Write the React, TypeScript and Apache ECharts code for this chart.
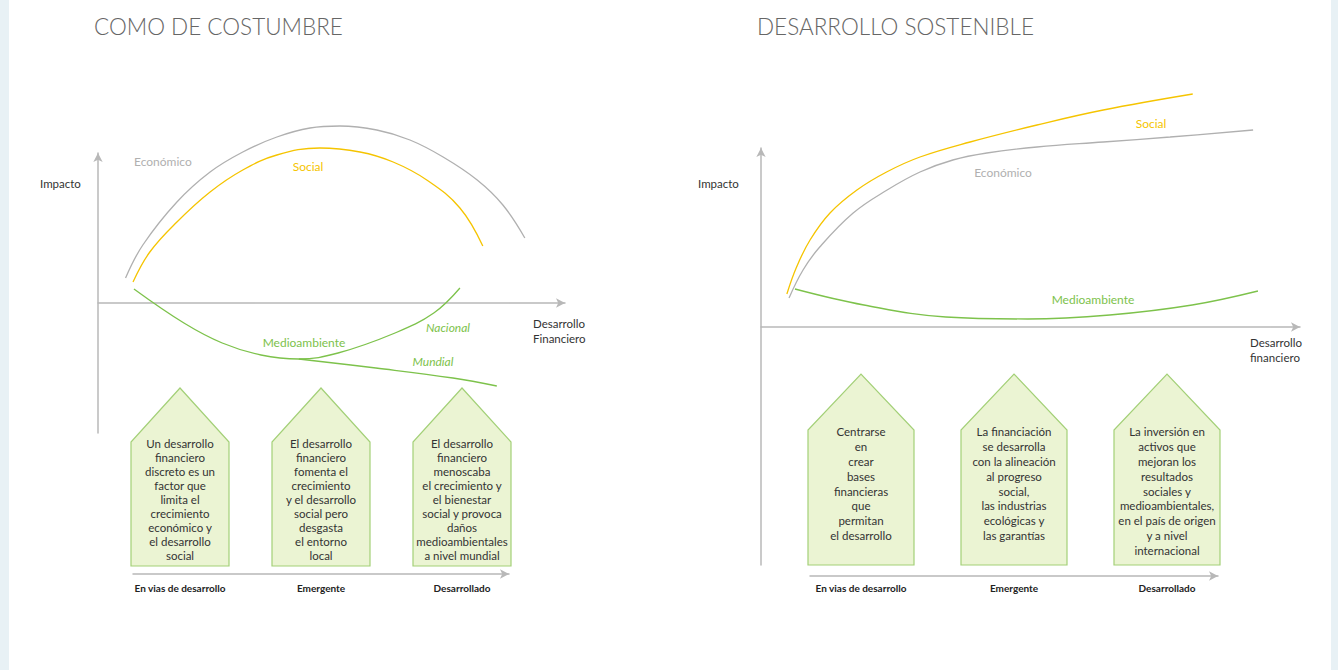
import React, { useEffect, useRef } from "react";
import * as echarts from "echarts";

// ---------- DATA ----------
// Left panel "COMO DE COSTUMBRE" (x: financial development 0-100, y: impact)
const leftEconomico = [[5.9, 25], [9.6, 58], [16.9, 101], [24.0, 131], [31.0, 151], [38.3, 166], [45.4, 175], [51.8, 177], [59.7, 173], [66.8, 163], [73.9, 146], [81.2, 123], [86.7, 98], [91.4, 65]];
const leftSocial = [[7.5, 21], [11.1, 51], [16.9, 81], [24.0, 111], [31.0, 133], [38.3, 148], [47.5, 155], [56.1, 151], [63.2, 141], [70.4, 123], [77.5, 95], [82.4, 57]];
const leftMedioNacional = [[7.7, 14], [18.4, -20], [26.6, -40], [34.9, -52], [43.0, -56], [51.4, -50], [63.6, -30], [71.9, -10], [77.5, 15]];
const leftMedioMundial = [[43.0, -56], [59.5, -65], [76.0, -75], [85.4, -83]];

// Right panel "DESARROLLO SOSTENIBLE"
const rightSocial = [[4.8, 33], [6.6, 60], [9.1, 87], [12.8, 114], [17.8, 137], [23.3, 155], [29.5, 170], [38.8, 185], [51.2, 202], [63.5, 217], [80.1, 233]];
const rightEconomico = [[5.2, 29], [7.8, 57], [10.9, 80], [17.1, 114], [23.4, 137], [29.5, 155], [35.6, 167], [41.9, 174], [51.2, 180], [63.5, 185], [75.9, 190], [91.3, 197]];
const rightMedio = [[6.3, 38], [19.1, 22], [34.3, 10], [49.5, 8], [64.7, 12], [80.0, 22], [92.2, 36]];

// Development stages (position along the stage axis 0-100)
const stagePositions = [12.5, 50, 87.5];
const stageLabels = ["En vias de desarrollo", "Emergente", "Desarrollado"];

const leftHouseTexts = [
  "Un desarrollo\nfinanciero\ndiscreto es un\nfactor que\nlimita el\ncrecimiento\neconómico y\nel desarrollo\nsocial",
  "El desarrollo\nfinanciero\nfomenta el\ncrecimiento\ny el desarrollo\nsocial pero\ndesgasta\nel entorno\nlocal",
  "El desarrollo\nfinanciero\nmenoscaba\nel crecimiento y\nel bienestar\nsocial y provoca\ndaños\nmedioambientales\na nivel mundial",
];
const rightHouseTexts = [
  "Centrarse\nen\ncrear\nbases\nfinancieras\nque\npermitan\nel desarrollo",
  "La financiación\nse desarrolla\ncon la alineación\nal progreso\nsocial,\nlas industrias\necológicas y\nlas garantías",
  "La inversión en\nactivos que\nmejoran los\nresultados\nsociales y\nmedioambientales,\nen el país de origen\ny a nivel\ninternacional",
];

const titles = ["COMO DE COSTUMBRE", "DESARROLLO SOSTENIBLE"];

// ---------- STYLE ----------
const FONT = 'Lato, "Open Sans", sans-serif';
const GRAY = "#b0b0b0";
const YELLOW = "#f5c400";
const GREEN = "#7dc24b";
const AXIS = "#b8b8b8";
const HOUSE_FILL = "#ebf4d3";
const HOUSE_STROKE = "#a3d077";
const TEXT = "#333333";

function axisLine() {
  return {
    show: true,
    onZero: true,
    symbol: ["none", "arrow"],
    symbolSize: [7, 9],
    lineStyle: { color: AXIS, width: 1.5 },
  };
}

function valueAxis(gridIndex: number, min: number, max: number, show = true) {
  return {
    type: "value",
    gridIndex,
    min,
    max,
    show,
    axisLine: axisLine(),
    axisTick: { show: false },
    axisLabel: { show: false },
    splitLine: { show: false },
  };
}

function curve(x: number, data: number[][], color: string) {
  return {
    type: "line",
    xAxisIndex: x,
    yAxisIndex: x,
    data,
    smooth: 0.4,
    clip: false,
    showSymbol: false,
    symbol: "none",
    silent: true,
    lineStyle: { color, width: 1.3 },
  };
}

function houses(axisIdx: number, texts: string[], geom: { w: number; apex: number; shoulder: number; bottom: number; lh: number; labelDy: number }) {
  return {
    type: "custom",
    xAxisIndex: axisIdx,
    yAxisIndex: axisIdx,
    silent: true,
    clip: false,
    data: stagePositions.map((p, i) => [p, i]),
    renderItem: (params: any, api: any) => {
      const idx = api.value(1);
      const base = api.coord([api.value(0), 0]);
      const cx = base[0];
      const by = base[1];
      const hw = geom.w / 2;
      const top = by - geom.apex;
      const sh = by - geom.shoulder;
      const bot = by - geom.bottom;
      return {
        type: "group",
        children: [
          {
            type: "polygon",
            shape: { points: [[cx - hw, bot], [cx - hw, sh], [cx, top], [cx + hw, sh], [cx + hw, bot]] },
            style: { fill: HOUSE_FILL, stroke: HOUSE_STROKE, lineWidth: 1.2 },
          },
          {
            type: "text",
            x: cx,
            y: sh + 2 - geom.lh / 2,
            style: {
              text: texts[idx],
              fill: TEXT,
              fontSize: 11.5,
              fontFamily: FONT,
              lineHeight: geom.lh,
              align: "center",
              verticalAlign: "top",
            },
          },
          {
            type: "text",
            x: cx,
            y: by + geom.labelDy,
            style: {
              text: stageLabels[idx],
              fill: "#222",
              fontSize: 10,
              fontWeight: "bold",
              fontFamily: FONT,
              align: "center",
              verticalAlign: "middle",
            },
          },
        ],
      };
    },
  };
}

function txt(x: number, y: number, text: string, color: string, size: number, extra: any = {}) {
  return {
    type: "text",
    x,
    y,
    silent: true,
    style: {
      text,
      fill: color,
      fontSize: size,
      fontFamily: FONT,
      align: "left",
      verticalAlign: "middle",
      ...extra,
    },
  };
}

export default function App() {
  const ref = useRef<HTMLDivElement>(null);
  useEffect(() => {
    if (!ref.current) return;
    const chart = echarts.init(ref.current, undefined, { renderer: "svg" });
    chart.setOption({
      animation: false,
      backgroundColor: "#ffffff",
      grid: [
        { left: 98, top: 153, width: 467, height: 280 },
        { left: 133, top: 380, width: 376, height: 194 },
        { left: 761, top: 148, width: 539, height: 417 },
        { left: 810, top: 370, width: 408, height: 206 },
      ],
      xAxis: [
        valueAxis(0, 0, 100),
        valueAxis(1, 0, 100),
        valueAxis(2, 0, 100),
        valueAxis(3, 0, 100),
      ],
      yAxis: [
        valueAxis(0, -130, 150),
        valueAxis(1, 0, 1, false),
        valueAxis(2, -238, 179),
        valueAxis(3, 0, 1, false),
      ],
      series: [
        curve(0, leftEconomico, GRAY),
        curve(0, leftSocial, YELLOW),
        curve(0, leftMedioNacional, GREEN),
        curve(0, leftMedioMundial, GREEN),
        houses(1, leftHouseTexts, { w: 98, apex: 186, shoulder: 132, bottom: 8, lh: 13.9, labelDy: 14 }),
        curve(2, rightSocial, YELLOW),
        curve(2, rightEconomico, GRAY),
        curve(2, rightMedio, GREEN),
        houses(3, rightHouseTexts, { w: 106, apex: 202, shoulder: 146, bottom: 11, lh: 14.8, labelDy: 12 }),
      ],
      graphic: [
        { type: "rect", silent: true, shape: { x: 0, y: 0, width: 9, height: 670 }, style: { fill: "#e8f1f5" } },
        { type: "rect", silent: true, shape: { x: 1331, y: 0, width: 7, height: 670 }, style: { fill: "#e8f1f5" } },
        txt(94, 26, titles[0], "#666666", 22.5, { fontWeight: 300 }),
        txt(757, 26, titles[1], "#666666", 22.5, { fontWeight: 300 }),
        txt(40, 183, "Impacto", TEXT, 11.5),
        txt(698, 183, "Impacto", TEXT, 11.5),
        txt(533, 316, "Desarrollo\nFinanciero", TEXT, 11.5, { verticalAlign: "top", lineHeight: 15 }),
        txt(1250, 335, "Desarrollo\nfinanciero", TEXT, 11.5, { verticalAlign: "top", lineHeight: 15 }),
        txt(134, 161, "Económico", GRAY, 12),
        txt(308, 166, "Social", YELLOW, 12, { align: "center" }),
        txt(304, 342, "Medioambiente", GREEN, 12, { align: "center" }),
        txt(448, 327, "Nacional", GREEN, 12, { align: "center", fontStyle: "italic" }),
        txt(433, 361, "Mundial", GREEN, 12, { align: "center", fontStyle: "italic" }),
        txt(1151, 123, "Social", YELLOW, 12, { align: "center" }),
        txt(1003, 172, "Económico", GRAY, 12, { align: "center" }),
        txt(1093, 299, "Medioambiente", GREEN, 12, { align: "center" }),
      ],
    });
    return () => chart.dispose();
  }, []);
  return <div ref={ref} style={{ position: "fixed", left: 0, top: 0, width: 1338, height: 670 }} />;
}
